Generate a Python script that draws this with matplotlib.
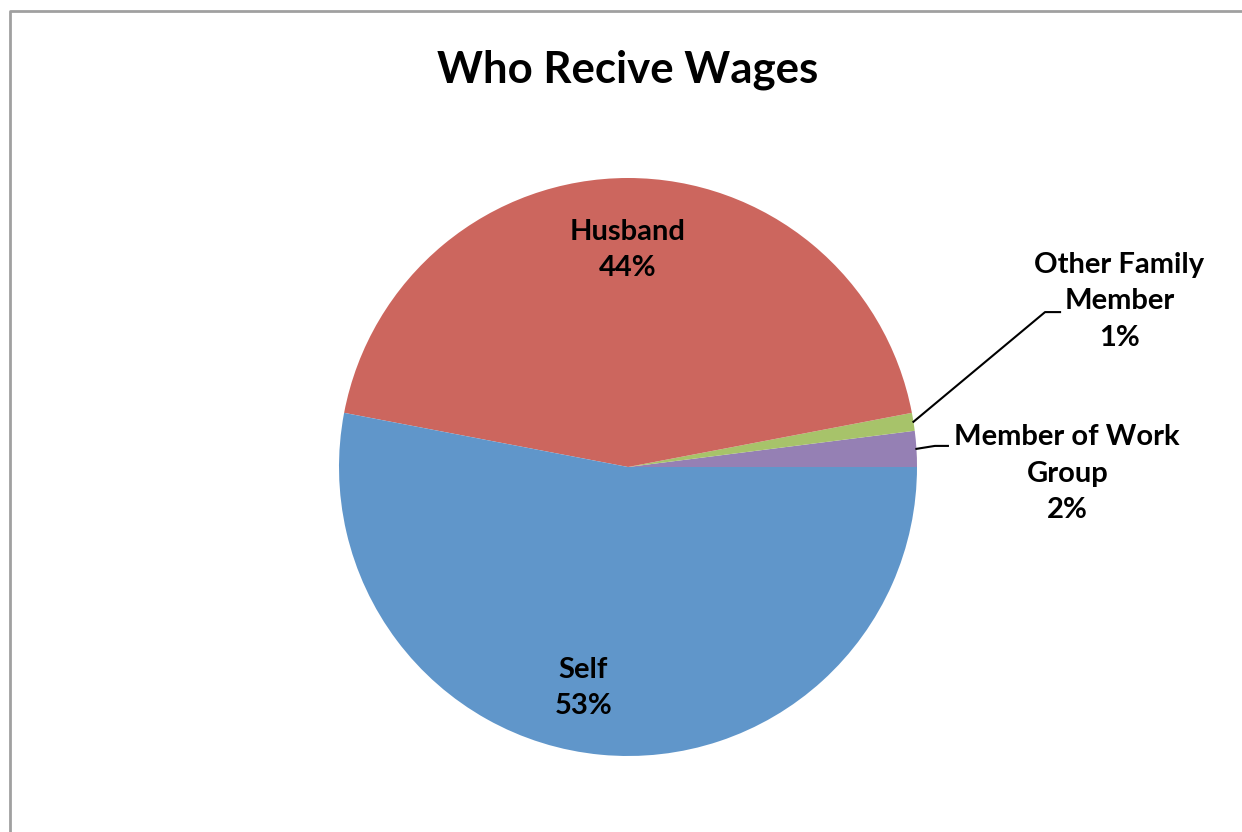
import numpy as np
import matplotlib.pyplot as plt
from matplotlib.lines import Line2D

# slices, counter-clockwise from 3 o'clock
labels = ['Member of Work\nGroup', 'Other Family\nMember', 'Husband', 'Self']
values = [2, 1, 44, 53]
colors = ['#9580B4', '#A7C36A', '#CC665E', '#6096CA']

plt.rcParams['font.family'] = ['Lato', 'DejaVu Sans']

W, H = 1242, 832
fig = plt.figure(figsize=(W / 100, H / 100), dpi=100)

# pie axes: centre (628, 467) px, radius 289 px
cx, cy, r = 628, 467, 289
ax = fig.add_axes([(cx - r) / W, (H - cy - r) / H, 2 * r / W, 2 * r / H])
wedges, _ = ax.pie(values, colors=colors, startangle=0, counterclock=True,
                   radius=1, wedgeprops=dict(linewidth=0))
ax.set_xlim(-1, 1)
ax.set_ylim(-1, 1)
ax.set_aspect('equal')
ax.axis('off')

fig.text(cx / W, 1 - 70 / H, 'Who Recive Wages', ha='center', va='center',
         fontsize=31.5, fontweight='bold')

lab_kw = dict(ha='center', va='center', fontsize=21, fontweight='bold',
              linespacing=1.5, clip_on=False)

def pct(v):
    return f'{v}%'

def mid_point(w):
    a = np.deg2rad((w.theta1 + w.theta2) / 2)
    return np.cos(a), np.sin(a)

# inside labels
ax.text(0.0, 0.75, f'{labels[2]}\n{pct(values[2])}', **lab_kw)
ax.text(-0.155, -0.765, f'{labels[3]}\n{pct(values[3])}', **lab_kw)

# outside labels with leader lines
ax.text(1.70, 0.574, f'{labels[1]}\n{pct(values[1])}', **lab_kw)
x0, y0 = mid_point(wedges[1])
ax.add_line(Line2D([x0, 1.443, 1.495], [y0, 0.536, 0.536], color='black',
                   linewidth=1.5, clip_on=False))

ax.text(1.52, -0.024, f'{labels[0]}\n{pct(values[0])}', **lab_kw)
x0, y0 = mid_point(wedges[0])
ax.add_line(Line2D([x0, 1.062, 1.107], [y0, 0.073, 0.073], color='black',
                   linewidth=1.5, clip_on=False))

# chart area border (left and top edges)
fig.add_artist(Line2D([9.5 / W, 9.5 / W, 1], [0, 1 - 10.5 / H, 1 - 10.5 / H],
                      transform=fig.transFigure, color='#A0A0A0', linewidth=2))

fig.savefig('out.png', dpi=100)
